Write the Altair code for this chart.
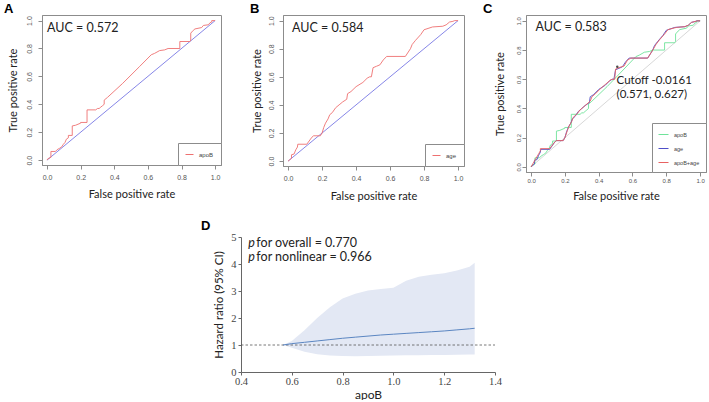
import altair as alt
import pandas as pd

# ---------------- data ----------------
# Panel A : apoB ROC (false positive rate, true positive rate)
a_fpr = [0.0, 0.005, 0.023, 0.023, 0.05, 0.06, 0.075, 0.088, 0.095, 0.107,
         0.115, 0.127, 0.127, 0.15, 0.15, 0.17, 0.2, 0.2, 0.238, 0.238,
         0.29, 0.3, 0.31, 0.32, 0.33, 0.34, 0.34, 0.36, 0.45, 0.55,
         0.62, 0.64, 0.67, 0.7, 0.72, 0.79, 0.79, 0.85, 0.855, 0.855,
         0.87, 0.88, 0.92, 0.93, 0.96, 0.97, 0.98, 0.98, 1.0]
a_tpr = [0.0, 0.01, 0.02, 0.062, 0.062, 0.075, 0.085, 0.096, 0.11, 0.127,
         0.15, 0.16, 0.177, 0.177, 0.245, 0.25, 0.265, 0.27, 0.27, 0.36,
         0.36, 0.37, 0.37, 0.38, 0.39, 0.40, 0.43, 0.45, 0.55, 0.67,
         0.755, 0.765, 0.785, 0.79, 0.8, 0.8, 0.85, 0.85, 0.86, 0.91,
         0.93, 0.94, 0.95, 0.965, 0.97, 0.985, 0.99, 1.0, 1.0]

# Panel B : age ROC
b_fpr = [0.0, 0.01, 0.02, 0.02, 0.035, 0.045, 0.055, 0.057, 0.11, 0.14,
         0.15, 0.19, 0.2, 0.21, 0.22, 0.235, 0.245, 0.26, 0.28, 0.3,
         0.32, 0.345, 0.35, 0.37, 0.4, 0.44, 0.465, 0.48, 0.49, 0.5,
         0.52, 0.54, 0.56, 0.58, 0.69, 0.72, 0.73, 0.75, 0.78, 0.8,
         0.85, 0.91, 0.93, 0.95, 0.97, 0.98, 1.0]
b_tpr = [0.0, 0.01, 0.02, 0.045, 0.05, 0.08, 0.1, 0.12, 0.12, 0.17,
         0.18, 0.18, 0.2, 0.24, 0.27, 0.3, 0.33, 0.345, 0.38, 0.4,
         0.42, 0.44, 0.48, 0.495, 0.53, 0.56, 0.59, 0.6, 0.6, 0.665,
         0.675, 0.685, 0.72, 0.745, 0.745, 0.8, 0.83, 0.86, 0.9, 0.935,
         0.955, 0.96, 0.97, 0.99, 0.995, 1.0, 1.0]

# Panel C : apoB+age ROC (combined model)
c_fpr = [0.0, 0.01, 0.02, 0.03, 0.045, 0.055, 0.055, 0.11, 0.14, 0.15,
         0.19, 0.2, 0.215, 0.225, 0.24, 0.25, 0.27, 0.29, 0.31, 0.33,
         0.35, 0.36, 0.38, 0.41, 0.44, 0.47, 0.48, 0.495, 0.5, 0.52,
         0.55, 0.57, 0.59, 0.69, 0.72, 0.74, 0.76, 0.79, 0.81, 0.86,
         0.91, 0.93, 0.95, 0.97, 0.985, 1.0]
c_tpr = [0.0, 0.02, 0.04, 0.06, 0.09, 0.11, 0.125, 0.125, 0.17, 0.18,
         0.18, 0.2, 0.25, 0.28, 0.31, 0.34, 0.36, 0.39, 0.41, 0.43,
         0.45, 0.48, 0.5, 0.535, 0.565, 0.595, 0.6, 0.6, 0.67, 0.68,
         0.69, 0.73, 0.745, 0.745, 0.8, 0.84, 0.87, 0.91, 0.94, 0.955,
         0.96, 0.97, 0.99, 0.995, 1.0, 1.0]

series_names = ["apoB", "age", "apoB+age"]
auc_labels = ["AUC = 0.572", "AUC = 0.584", "AUC = 0.583"]
cutoff_point = [0.51, 0.685]
cutoff_lines = ["Cutoff -0.0161", "(0.571, 0.627)"]
diag = [0.0, 1.0]

# Panel D : restricted cubic spline hazard ratio
d_x = [0.565, 0.6, 0.65, 0.7, 0.75, 0.8, 0.85, 0.9, 0.95, 1.0,
       1.05, 1.1, 1.15, 1.2, 1.25, 1.3, 1.32]
d_hr = [1.0, 1.05, 1.1, 1.15, 1.2, 1.25, 1.29, 1.33, 1.37, 1.4,
        1.43, 1.46, 1.49, 1.52, 1.56, 1.6, 1.62]
d_lo = [1.0, 0.9, 0.75, 0.66, 0.61, 0.59, 0.58, 0.59, 0.6, 0.61,
        0.62, 0.62, 0.63, 0.63, 0.64, 0.65, 0.65]
d_hi = [1.0, 1.15, 1.55, 2.0, 2.4, 2.72, 2.9, 3.02, 3.07, 3.12,
        3.38, 3.53, 3.6, 3.66, 3.76, 3.9, 4.05]
d_ref_x = [0.4, 1.4]
d_ref_y = [1.0, 1.0]
p_lines = ["for overall = 0.770", "for nonlinear = 0.966"]

# ---------------- styling ----------------
SANS = "Lato"
RED = "#EE7070"
BLUE_DIAG = "#7878E4"
BOX = "#8c8c8c"


def roc_panel(curves, colors, letter, letter_dx, auc_text, auc_pos, width, height,
              ytitle_x, xtitle_y, lab_size, lab_off_y, lab_off_x, legend_cfg,
              diag_color, field, extra=None):
    xs = alt.Scale(domain=[-0.03, 1.035], nice=False, zero=False)
    ys = alt.Scale(domain=[-0.035, 1.04], nice=False, zero=False)
    ticks = [0.0, 0.2, 0.4, 0.6, 0.8, 1.0]
    xaxis = alt.Axis(values=ticks, format=".1f", grid=False, tickSize=4,
                     tickColor=BOX, domainColor=BOX, labelFont="Liberation Sans",
                     labelFontSize=lab_size, labelColor="#555", labelOverlap=False,
                     labelFlush=False,
                     labelBaseline="middle", labelPadding=lab_off_y - 4,
                     title="False positive rate", titleFont=SANS, titleFontSize=11,
                     titleFontWeight="normal", titleColor="#222",
                     titleBaseline="middle", titleY=xtitle_y)
    yaxis = alt.Axis(values=ticks, format=".1f", grid=False, tickSize=4,
                     tickColor=BOX, domainColor=BOX, labelFont="Liberation Sans",
                     labelFontSize=lab_size, labelColor="#555", labelAngle=270,
                     labelAlign="center", labelBaseline="middle", labelOverlap=False,
                     labelFlush=False,
                     labelPadding=lab_off_x - 4,
                     title="True positive rate", titleFont=SANS, titleFontSize=11,
                     titleFontWeight="normal", titleColor="#222", titleAngle=270,
                     titleAlign="center", titleBaseline="middle",
                     titleX=ytitle_x, titleY=height / 2)

    def X():
        return alt.X("fpr:Q", scale=xs, axis=xaxis)

    def Y():
        return alt.Y("tpr:Q", scale=ys, axis=yaxis)

    diag_df = pd.DataFrame({"fpr": diag, "tpr": diag})
    l_diag = alt.Chart(diag_df).mark_line(color=diag_color, strokeWidth=0.9).encode(
        x=X(), y=Y())

    rows = []
    for name, fx, ty in curves:
        for i, (a, b) in enumerate(zip(fx, ty)):
            rows.append({field: name, "fpr": a, "tpr": b, "i": i})
    cdf = pd.DataFrame(rows)
    names = [c[0] for c in curves]
    l_curves = alt.Chart(cdf).mark_line(strokeWidth=0.9).encode(
        x=X(), y=Y(),
        color=alt.Color(f"{field}:N", scale=alt.Scale(domain=names, range=colors),
                        legend=legend_cfg),
        order="i:Q",
    )

    auc_df = pd.DataFrame({"fpr": [auc_pos[0]], "tpr": [auc_pos[1]], "t": [auc_text]})
    l_auc = alt.Chart(auc_df).mark_text(align="left", baseline="middle", font=SANS,
                                        fontSize=12.5, color="#222").encode(
        x=X(), y=Y(), text="t:N")

    layers = [l_diag, l_curves, l_auc]
    if extra is not None:
        layers += extra(X, Y)
    return alt.layer(*layers).properties(
        width=width, height=height,
        view=alt.ViewBackground(stroke=BOX, strokeWidth=1),
        title=alt.TitleParams(letter, anchor="start", frame="group", dx=letter_dx,
                              fontSize=13, fontWeight="bold", font="Liberation Sans",
                              color="black", offset=-1),
    )


def leg(pad, lab, symsize, rowpad=2):
    return alt.Legend(orient="bottom-right", title=None, offset=0, symbolType="stroke",
                      symbolSize=symsize, symbolStrokeWidth=1, strokeColor=BOX,
                      fillColor="white", padding=pad, labelFontSize=lab,
                      labelFont="Liberation Sans", labelColor="#444",
                      rowPadding=rowpad, labelOffset=5)


def cutoff_layers(X, Y):
    pt = pd.DataFrame({"fpr": [cutoff_point[0]], "tpr": [cutoff_point[1]]})
    l_pt = alt.Chart(pt).mark_point(filled=True, size=6, color="black").encode(
        x=X(), y=Y())
    tdf = pd.DataFrame({"fpr": [0.506, 0.506], "tpr": [0.585, 0.49], "t": cutoff_lines})
    l_t = alt.Chart(tdf).mark_text(align="left", baseline="middle", font=SANS,
                                   fontSize=11.5, color="#222").encode(
        x=X(), y=Y(), text="t:N")
    return [l_pt, l_t]


panel_a = roc_panel([("apoB", a_fpr, a_tpr)], [RED], "A", -38, auc_labels[0],
                    (0.0, 0.948), 179, 150, -28.7, 29, 7, 12.3, 12.4,
                    leg(7, 6, 64), BLUE_DIAG, "s_a")
panel_b = roc_panel([("age", b_fpr, b_tpr)], [RED], "B", -33, auc_labels[1],
                    (0.023, 0.944), 181, 151, -26, 30, 7, 12.3, 12,
                    leg(7, 6, 64), BLUE_DIAG, "s_b")
panel_c = roc_panel([(series_names[0], a_fpr, a_tpr),
                     (series_names[1], b_fpr, b_tpr),
                     (series_names[2], c_fpr, c_tpr)],
                    ["#6FE39A", "#4F4FC8", "#E86262"], "C", -43, auc_labels[2],
                    (0.026, 0.958), 180, 157, -25.3, 24.3, 6, 8.3, 7.3,
                    leg(6, 5.5, 100, 5), "#D2D2D2", "s_c", extra=cutoff_layers)

# ---------------- panel D ----------------
dxs = alt.Scale(domain=[0.4, 1.4], nice=False, zero=False)
dys = alt.Scale(domain=[0, 5], nice=False)
AX = "#666"
d_xaxis = alt.Axis(values=[0.4, 0.6, 0.8, 1.0, 1.2, 1.4], format=".1f", grid=False,
                   tickSize=3, tickColor=AX, domainColor=AX, labelFont="Liberation Serif",
                   labelFontSize=10.5, labelColor="#444", labelPadding=1,
                   labelOverlap=False, labelFlush=False,
                   title="apoB", titleFont=SANS, titleFontSize=12, titleFontWeight="normal",
                   titleColor="#222", titleBaseline="middle", titleY=22)
d_yaxis = alt.Axis(values=[0, 1, 2, 3, 4, 5], format="d", grid=False, tickSize=3,
                   tickColor=AX, domainColor=AX, labelFont="Liberation Serif",
                   labelFontSize=10.5, labelColor="#444", labelPadding=2,
                   labelOverlap=False, labelFlush=False, labelBaseline="middle",
                   title="Hazard ratio (95% CI)", titleFont=SANS, titleFontSize=11.5,
                   titleFontWeight="normal", titleColor="#222", titleAngle=270,
                   titleAlign="center", titleBaseline="middle", titleX=-22, titleY=67.5)


def DX(field="x"):
    return alt.X(f"{field}:Q", scale=dxs, axis=d_xaxis)


def DY(field):
    return alt.Y(f"{field}:Q", scale=dys, axis=d_yaxis)


d_df = pd.DataFrame({"x": d_x, "hr": d_hr, "lo": d_lo, "hi": d_hi})
d_band = alt.Chart(d_df).mark_area(color="#E3E8F4").encode(
    x=DX(), y=DY("lo"), y2="hi:Q")
d_ref = alt.Chart(pd.DataFrame({"x": d_ref_x, "y": d_ref_y})).mark_line(
    color="#555", strokeDash=[2.5, 2], strokeWidth=0.8).encode(x=DX(), y=DY("y"))
d_line = alt.Chart(d_df).mark_line(color="#5B86C2", strokeWidth=1).encode(
    x=DX(), y=DY("hr"))
p_df = pd.DataFrame({"x": [0.429, 0.429], "y": [4.77, 4.25], "t": p_lines, "p": ["p", "p"]})
d_p = alt.Chart(p_df).mark_text(align="left", baseline="middle", font=SANS, fontSize=12.5,
                                fontStyle="italic", color="#222").encode(
    x=DX(), y=DY("y"), text="p:N")
d_t = alt.Chart(p_df).mark_text(align="left", baseline="middle", font=SANS, fontSize=12.5,
                                color="#222", dx=8).encode(
    x=DX(), y=DY("y"), text="t:N")

panel_d = alt.layer(d_band, d_ref, d_line, d_p, d_t).properties(
    width=254, height=135, view=alt.ViewBackground(stroke=None),
    title=alt.TitleParams("D", anchor="start", frame="group", dx=-40, fontSize=13,
                          fontWeight="bold", font="Liberation Sans", color="black",
                          offset=-1))

spacer = alt.Chart(pd.DataFrame({"v": [0]})).mark_point(opacity=0).encode(
    x=alt.X("v:Q", axis=None), y=alt.Y("v:Q", axis=None)).properties(
    width=190, height=135, view=alt.ViewBackground(stroke=None))

top = alt.hconcat(panel_a, panel_b, panel_c, spacing=62, bounds="flush").resolve_scale(
    color="independent")
bottom = alt.hconcat(spacer, panel_d, spacing=9, bounds="flush")
chart = alt.vconcat(top, bottom, spacing=18).resolve_scale(
    color="independent").properties(
    padding={"left": 3, "top": 2, "right": 0, "bottom": 0},
    background="white").configure_axis(labelOverlap=False, labelFlush=False)

chart.save("out.html", embed_options={"renderer": "svg", "actions": False})
